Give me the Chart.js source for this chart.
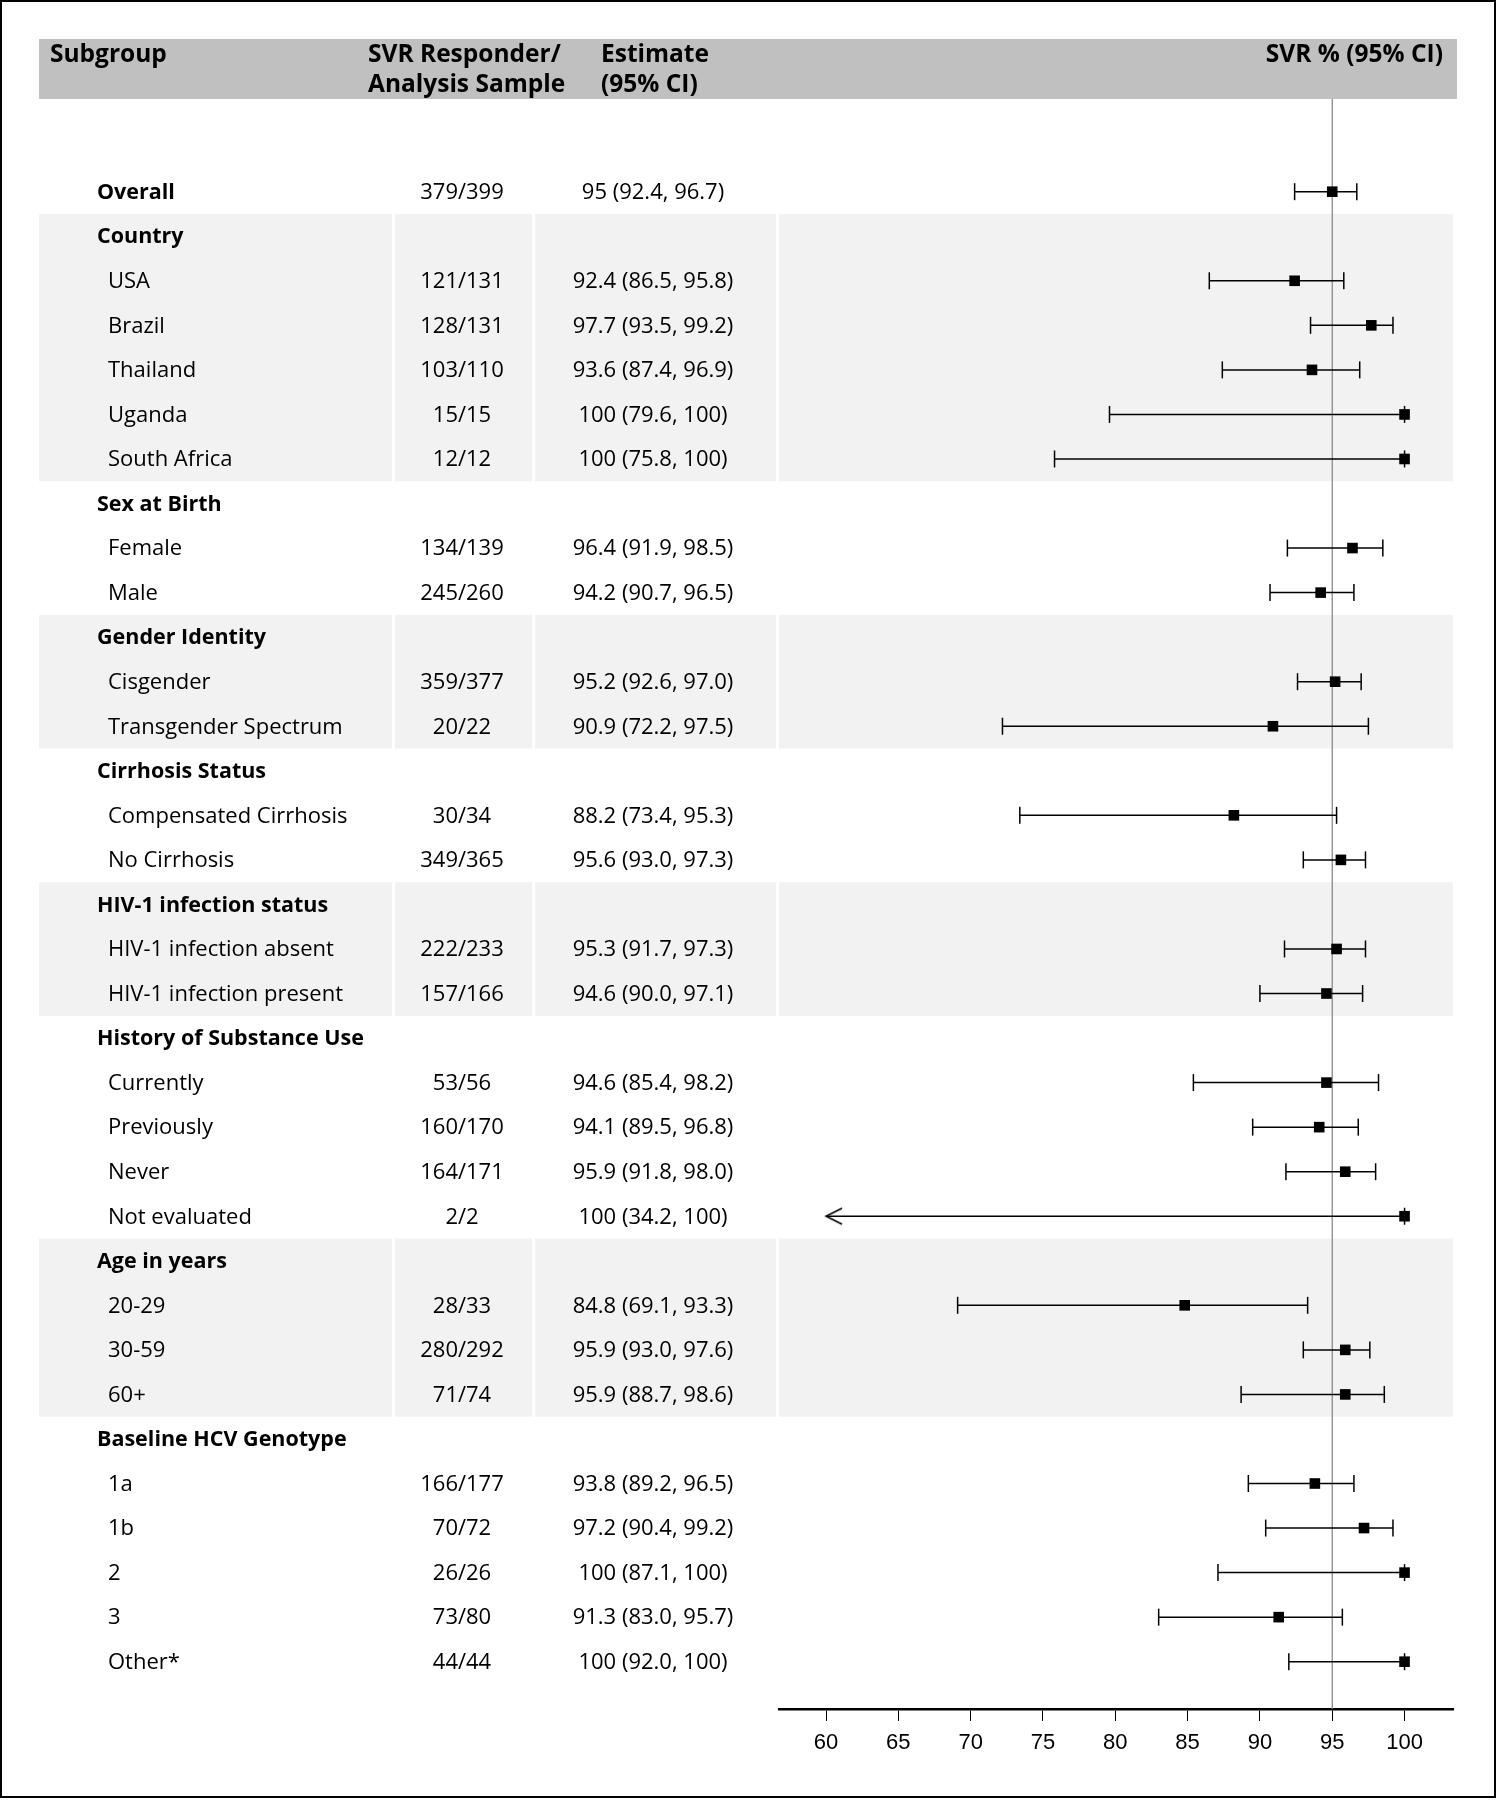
<!DOCTYPE html>
<html>
<head>
<meta charset="utf-8">
<title>SVR by subgroup</title>
<script src="https://cdn.jsdelivr.net/npm/chart.js@4.4.1/dist/chart.umd.min.js"></script>
<style>
  html, body { margin: 0; padding: 0; background: #fff; }
  canvas { display: block; }
</style>
</head>
<body>
<canvas id="forest" width="1500" height="1800"></canvas>
<script>
// rows, top to bottom (index = y value on the hidden y axis)
const subgroups = [
  "Overall", "Country", "USA", "Brazil", "Thailand", "Uganda", "South Africa",
  "Sex at Birth", "Female", "Male",
  "Gender Identity", "Cisgender", "Transgender Spectrum",
  "Cirrhosis Status", "Compensated Cirrhosis", "No Cirrhosis",
  "HIV-1 infection status", "HIV-1 infection absent", "HIV-1 infection present",
  "History of Substance Use", "Currently", "Previously", "Never", "Not evaluated",
  "Age in years", "20-29", "30-59", "60+",
  "Baseline HCV Genotype", "1a", "1b", "2", "3", "Other*"
];
const headingRows = [0, 1, 7, 10, 13, 16, 19, 24, 28];

const responders = [
  "379/399", "", "121/131", "128/131", "103/110", "15/15", "12/12",
  "", "134/139", "245/260",
  "", "359/377", "20/22",
  "", "30/34", "349/365",
  "", "222/233", "157/166",
  "", "53/56", "160/170", "164/171", "2/2",
  "", "28/33", "280/292", "71/74",
  "", "166/177", "70/72", "26/26", "73/80", "44/44"
];
const estimateLabels = [
  "95 (92.4, 96.7)", "", "92.4 (86.5, 95.8)", "97.7 (93.5, 99.2)", "93.6 (87.4, 96.9)", "100 (79.6, 100)", "100 (75.8, 100)",
  "", "96.4 (91.9, 98.5)", "94.2 (90.7, 96.5)",
  "", "95.2 (92.6, 97.0)", "90.9 (72.2, 97.5)",
  "", "88.2 (73.4, 95.3)", "95.6 (93.0, 97.3)",
  "", "95.3 (91.7, 97.3)", "94.6 (90.0, 97.1)",
  "", "94.6 (85.4, 98.2)", "94.1 (89.5, 96.8)", "95.9 (91.8, 98.0)", "100 (34.2, 100)",
  "", "84.8 (69.1, 93.3)", "95.9 (93.0, 97.6)", "95.9 (88.7, 98.6)",
  "", "93.8 (89.2, 96.5)", "97.2 (90.4, 99.2)", "100 (87.1, 100)", "91.3 (83.0, 95.7)", "100 (92.0, 100)"
];
const estimates = [
  95, null, 92.4, 97.7, 93.6, 100, 100,
  null, 96.4, 94.2,
  null, 95.2, 90.9,
  null, 88.2, 95.6,
  null, 95.3, 94.6,
  null, 94.6, 94.1, 95.9, 100,
  null, 84.8, 95.9, 95.9,
  null, 93.8, 97.2, 100, 91.3, 100
];
const lowerCI = [
  92.4, null, 86.5, 93.5, 87.4, 79.6, 75.8,
  null, 91.9, 90.7,
  null, 92.6, 72.2,
  null, 73.4, 93.0,
  null, 91.7, 90.0,
  null, 85.4, 89.5, 91.8, 34.2,
  null, 69.1, 93.0, 88.7,
  null, 89.2, 90.4, 87.1, 83.0, 92.0
];
const upperCI = [
  96.7, null, 95.8, 99.2, 96.9, 100, 100,
  null, 98.5, 96.5,
  null, 97.0, 97.5,
  null, 95.3, 97.3,
  null, 97.3, 97.1,
  null, 98.2, 96.8, 98.0, 100,
  null, 93.3, 97.6, 98.6,
  null, 96.5, 99.2, 100, 95.7, 100
];
const shadedGroups = [[1, 6], [10, 12], [16, 18], [24, 27]];
const xTicks = [60, 65, 70, 75, 80, 85, 90, 95, 100];
const referenceValue = 95;
const clipMin = 60; // CI below this gets an arrow

const FONT = "'Open Sans', 'Noto Sans', 'DejaVu Sans', sans-serif";
const yMin = -2.081, yMax = 34.062;
const columns = [[39, 392], [395, 532], [535, 776], [779, 1453]];

// whisker segments, split by null points
const whiskers = [];
const caps = [];
const arrows = [];
const marks = [];
estimates.forEach((v, i) => {
  if (v === null) return;
  const lo = Math.max(lowerCI[i], clipMin);
  whiskers.push({ x: lo, y: i }, { x: upperCI[i], y: i }, { x: NaN, y: null });
  if (lowerCI[i] >= clipMin) caps.push({ x: lowerCI[i], y: i });
  else arrows.push({ x: clipMin, y: i });
  caps.push({ x: upperCI[i], y: i });
  marks.push({ x: v, y: i });
});

// open arrow head, tip sits in the middle of the image
function arrowHead() {
  const c = document.createElement("canvas");
  c.width = 36;
  c.height = 20;
  const g = c.getContext("2d");
  g.strokeStyle = "#000";
  g.lineWidth = 1.6;
  g.beginPath();
  g.moveTo(34, 2);
  g.lineTo(18, 10);
  g.lineTo(34, 18);
  g.stroke();
  return c;
}

const tablePlugin = {
  id: "table",
  beforeDraw(chart) {
    const { ctx } = chart;
    const y = chart.scales.y;
    ctx.save();
    ctx.fillStyle = "#fff";
    ctx.fillRect(0, 0, chart.width, chart.height);

    // header band
    ctx.fillStyle = "#c0c0c0";
    ctx.fillRect(39, 39, 1418, 60);

    // grey group bands
    ctx.fillStyle = "#f2f2f2";
    shadedGroups.forEach(([a, b]) => {
      const top = y.getPixelForValue(a - 0.5);
      const bot = y.getPixelForValue(b + 0.5);
      columns.forEach(([l, r]) => ctx.fillRect(l, top, r - l, bot - top));
    });
    ctx.restore();
  },
  afterDraw(chart) {
    const { ctx } = chart;
    const y = chart.scales.y;
    ctx.save();
    ctx.fillStyle = "#000";
    ctx.textBaseline = "middle";

    ctx.font = "bold 24.5px " + FONT;
    ctx.textAlign = "left";
    ctx.fillText("Subgroup", 50, 55);
    ctx.fillText("SVR Responder/", 368, 55);
    ctx.fillText("Analysis Sample", 368, 85);
    ctx.fillText("Estimate", 601, 55);
    ctx.fillText("(95% CI)", 601, 85);
    ctx.textAlign = "right";
    ctx.fillText("SVR % (95% CI)", 1443, 55);

    subgroups.forEach((name, i) => {
      const py = y.getPixelForValue(i) + 1;
      const head = headingRows.includes(i);
      ctx.textAlign = "left";
      ctx.font = (head ? "bold 21.5px " : "22px ") + FONT;
      ctx.fillText(name, head ? 97 : 108, py);
      ctx.font = "22px " + FONT;
      ctx.textAlign = "center";
      if (responders[i]) ctx.fillText(responders[i], 462, py);
      if (estimateLabels[i]) ctx.fillText(estimateLabels[i], 653, py);
    });

    // outer frame
    ctx.strokeStyle = "#000";
    ctx.lineWidth = 2;
    ctx.strokeRect(1, 1, 1494, 1796);
    ctx.restore();
  }
};

new Chart(document.getElementById("forest"), {
  type: "line",
  data: {
    datasets: [
      {
        data: [{ x: referenceValue, y: yMin }, { x: referenceValue, y: yMax }],
        borderColor: "#808080",
        borderWidth: 1.2,
        pointRadius: 0,
        order: 10
      },
      {
        data: whiskers,
        borderColor: "#000",
        borderWidth: 1.5,
        pointRadius: 0,
        spanGaps: false,
        order: 5
      },
      {
        data: caps,
        showLine: false,
        pointStyle: "line",
        rotation: 90,
        pointRadius: 8.5,
        borderColor: "#000",
        borderWidth: 1.5,
        order: 4
      },
      {
        data: arrows,
        showLine: false,
        pointStyle: arrowHead(),
        order: 3
      },
      {
        data: marks,
        showLine: false,
        pointStyle: "rect",
        pointRadius: 7.5,
        backgroundColor: "#000",
        borderColor: "#000",
        borderWidth: 0,
        order: 1
      }
    ]
  },
  options: {
    responsive: false,
    animation: false,
    devicePixelRatio: 1,
    clip: false,
    layout: { padding: { top: 99, left: 779, right: 47, bottom: 31 } },
    plugins: { legend: { display: false }, tooltip: { enabled: false } },
    scales: {
      x: {
        type: "linear",
        position: "bottom",
        min: 56.75,
        max: 103.35,
        bounds: "data",
        afterBuildTicks: (scale) => { scale.ticks = xTicks.map((v) => ({ value: v })); },
        afterFit: (scale) => { scale.height = 60; },
        grid: { display: true, drawOnChartArea: false, drawTicks: true, tickLength: 12, color: "#000", lineWidth: 1 },
        border: { display: true, color: "#000", width: 2.5 },
        ticks: {
          padding: 9,
          color: "#000",
          maxRotation: 0,
          font: { family: "'Liberation Sans', 'Arimo', sans-serif", size: 22 }
        }
      },
      y: {
        type: "linear",
        display: false,
        reverse: true,
        min: yMin,
        max: yMax
      }
    }
  },
  plugins: [tablePlugin]
});
</script>
</body>
</html>
